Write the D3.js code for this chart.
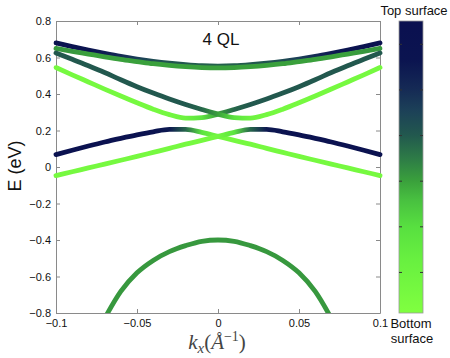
<!DOCTYPE html>
<html>
<head>
<meta charset="utf-8">
<script src="https://cdn.jsdelivr.net/npm/d3@7"></script>
<style>
  body { margin: 0; background: #fff; }
  svg { display: block; font-family: "Liberation Sans", Arial, sans-serif; }
</style>
</head>
<body>
<div id="vis"></div>
<script>
const FRAME_WIDTH = 450;
const FRAME_HEIGHT = 358;
const PLOT = {left: 56, right: 380, top: 21, bottom: 313};
const CBAR = {left: 399, right: 423};

// k grid (1/Angstrom) used by the surface bands
const K = [-0.1, -0.09, -0.08, -0.07, -0.06, -0.05, -0.04, -0.03, -0.02, -0.01, 0,
           0.01, 0.02, 0.03, 0.04, 0.05, 0.06, 0.07, 0.08, 0.09, 0.1];

// energies (eV), weight = position on the colorbar
const bandA_E = [0.68, 0.66, 0.641, 0.623, 0.606, 0.591, 0.579, 0.569, 0.561, 0.555, 0.553,
                 0.555, 0.561, 0.569, 0.579, 0.591, 0.606, 0.623, 0.641, 0.66, 0.68];
const bandA_W = [0.6, 0.59, 0.57, 0.54, 0.5, 0.46, 0.43, 0.41, 0.4, 0.39, 0.39,
                 0.39, 0.4, 0.41, 0.43, 0.46, 0.5, 0.54, 0.57, 0.59, 0.6];

const bandB_E = [0.65, 0.634, 0.619, 0.604, 0.59, 0.578, 0.566, 0.557, 0.55, 0.545, 0.543,
                 0.545, 0.55, 0.557, 0.566, 0.578, 0.59, 0.604, 0.619, 0.634, 0.65];
const bandB_W = [0.31, 0.31, 0.3, 0.3, 0.3, 0.3, 0.3, 0.3, 0.3, 0.3, 0.3,
                 0.3, 0.3, 0.3, 0.3, 0.3, 0.3, 0.3, 0.3, 0.31, 0.31];

const upperL_E = [0.545, 0.505, 0.466, 0.427, 0.389, 0.352, 0.317, 0.287, 0.268, 0.271, 0.29,
                  0.315, 0.342, 0.372, 0.405, 0.44, 0.478, 0.518, 0.555, 0.59, 0.625];
const upperL_W = [0.06, 0.06, 0.06, 0.06, 0.06, 0.06, 0.06, 0.07, 0.1, 0.18, 0.3,
                  0.38, 0.4, 0.4, 0.4, 0.4, 0.4, 0.4, 0.4, 0.4, 0.4];
const upperR_E = [0.625, 0.59, 0.555, 0.518, 0.478, 0.44, 0.405, 0.372, 0.342, 0.315, 0.29,
                  0.271, 0.268, 0.287, 0.317, 0.352, 0.389, 0.427, 0.466, 0.505, 0.545];
const upperR_W = [0.4, 0.4, 0.4, 0.4, 0.4, 0.4, 0.4, 0.4, 0.4, 0.38, 0.3,
                  0.18, 0.1, 0.07, 0.06, 0.06, 0.06, 0.06, 0.06, 0.06, 0.06];

const lowerL_E = [0.068, 0.092, 0.115, 0.137, 0.157, 0.176, 0.193, 0.206, 0.206, 0.19, 0.168,
                  0.146, 0.125, 0.102, 0.08, 0.058, 0.037, 0.016, -0.005, -0.026, -0.047];
const lowerL_W = [0.6, 0.6, 0.6, 0.6, 0.6, 0.6, 0.59, 0.55, 0.38, 0.18, 0.08,
                  0.06, 0.06, 0.06, 0.06, 0.06, 0.06, 0.06, 0.06, 0.06, 0.06];
const lowerR_E = [-0.047, -0.026, -0.005, 0.016, 0.037, 0.058, 0.08, 0.102, 0.125, 0.146, 0.168,
                  0.19, 0.206, 0.206, 0.193, 0.176, 0.157, 0.137, 0.115, 0.092, 0.068];
const lowerR_W = [0.06, 0.06, 0.06, 0.06, 0.06, 0.06, 0.06, 0.06, 0.06, 0.06, 0.08,
                  0.18, 0.38, 0.55, 0.59, 0.6, 0.6, 0.6, 0.6, 0.6, 0.6];

// bulk valence band
const K_VB = [-0.07, -0.06, -0.05, -0.04, -0.03, -0.02, -0.01, 0, 0.01, 0.02, 0.03, 0.04, 0.05, 0.06, 0.07];
const vb_E = [-0.83, -0.682, -0.58, -0.512, -0.464, -0.431, -0.407, -0.4,
              -0.407, -0.431, -0.464, -0.512, -0.58, -0.682, -0.83];
const vb_W = [0.31, 0.31, 0.31, 0.31, 0.31, 0.31, 0.31, 0.31, 0.31, 0.31, 0.31, 0.31, 0.31, 0.31, 0.31];

// colormap (bottom surface -> top surface)
const CMAP_W = [0.01, 0.126, 0.198, 0.258, 0.3, 0.345, 0.4, 0.455, 0.501, 0.5645, 0.65];
const CMAP_C = ["#80ff40", "#68f040", "#58e040", "#48c040", "#3aa03c", "#2e7e46",
                "#22584e", "#1c4058", "#152a55", "#0b1450", "#0a1050"];
const CB_DOMAIN = [0.01, 0.65];
const CB_TICKS = [0.1, 0.2, 0.3, 0.4, 0.5, 0.6];

const X_TICKS = [-0.1, -0.05, 0, 0.05, 0.1];
const X_LABELS = ["\u22120.1", "\u22120.05", "0", "0.05", "0.1"];
const Y_TICKS = [-0.8, -0.6, -0.4, -0.2, 0, 0.2, 0.4, 0.6, 0.8];
const Y_LABELS = ["\u22120.8", "\u22120.6", "\u22120.4", "\u22120.2", "0", "0.2", "0.4", "0.6", "0.8"];

const SVG = d3.select("#vis")
  .append("svg")
    .attr("width", FRAME_WIDTH)
    .attr("height", FRAME_HEIGHT);
const DEFS = SVG.append("defs");

const X_SCALE = d3.scaleLinear().domain([-0.1, 0.1]).range([PLOT.left, PLOT.right]);
const Y_SCALE = d3.scaleLinear().domain([-0.8, 0.8]).range([PLOT.bottom, PLOT.top]);
const CB_SCALE = d3.scaleLinear().domain(CB_DOMAIN).range([PLOT.bottom, PLOT.top]);
const COLOR = d3.scaleLinear().domain(CMAP_W).range(CMAP_C).interpolate(d3.interpolateRgb);

// axes, MATLAB style box with inward ticks
function styleAxis(g) {
  g.select(".domain").attr("stroke", "#8a8a8a");
  g.selectAll(".tick line").attr("stroke", "#8a8a8a");
  g.selectAll(".tick text").attr("fill", "#111").attr("font-size", "11px")
    .attr("font-family", "Liberation Sans, Arial, sans-serif");
}

SVG.append("g")
    .attr("transform", "translate(0," + PLOT.bottom + ")")
    .call(d3.axisBottom(X_SCALE).tickValues(X_TICKS).tickFormat((d, i) => X_LABELS[i])
      .tickSizeInner(-4).tickSizeOuter(0).tickPadding(6))
    .call(styleAxis);
SVG.append("g")
    .attr("transform", "translate(0," + PLOT.top + ")")
    .call(d3.axisTop(X_SCALE).tickValues(X_TICKS).tickFormat("")
      .tickSizeInner(-4).tickSizeOuter(0))
    .call(styleAxis);
SVG.append("g")
    .attr("transform", "translate(" + PLOT.left + ",0)")
    .call(d3.axisLeft(Y_SCALE).tickValues(Y_TICKS).tickFormat((d, i) => Y_LABELS[i])
      .tickSizeInner(-4).tickSizeOuter(0).tickPadding(5))
    .call(styleAxis);
SVG.append("g")
    .attr("transform", "translate(" + PLOT.right + ",0)")
    .call(d3.axisRight(Y_SCALE).tickValues(Y_TICKS).tickFormat("")
      .tickSizeInner(-4).tickSizeOuter(0))
    .call(styleAxis);

// clip at the bottom of the plot so the valence band ends on the axis
DEFS.append("clipPath").attr("id", "clip")
  .append("rect")
    .attr("x", PLOT.left - 6).attr("y", PLOT.top - 6)
    .attr("width", PLOT.right - PLOT.left + 12)
    .attr("height", PLOT.bottom - PLOT.top + 6);

const line = d3.line()
  .x((d) => X_SCALE(d.k))
  .y((d) => Y_SCALE(d.e))
  .curve(d3.curveMonotoneX);

const BANDS = [
  {id: "vb", k: K_VB, e: vb_E, w: vb_W},
  {id: "a", k: K, e: bandA_E, w: bandA_W},
  {id: "b", k: K, e: bandB_E, w: bandB_W},
  {id: "ul", k: K, e: upperL_E, w: upperL_W},
  {id: "ur", k: K, e: upperR_E, w: upperR_W},
  {id: "ll", k: K, e: lowerL_E, w: lowerL_W},
  {id: "lr", k: K, e: lowerR_E, w: lowerR_W}
];

const PLOT_G = SVG.append("g").attr("clip-path", "url(#clip)");

BANDS.forEach((b) => {
  const k0 = b.k[0], k1 = b.k[b.k.length - 1];
  const grad = DEFS.append("linearGradient")
      .attr("id", "g-" + b.id)
      .attr("gradientUnits", "userSpaceOnUse")
      .attr("x1", X_SCALE(k0)).attr("x2", X_SCALE(k1))
      .attr("y1", 0).attr("y2", 0);
  b.k.forEach((k, i) => {
    grad.append("stop")
      .attr("offset", (k - k0) / (k1 - k0))
      .attr("stop-color", COLOR(b.w[i]));
  });
  PLOT_G.append("path")
      .datum(b.k.map((k, i) => ({k: k, e: b.e[i]})))
      .attr("d", line)
      .attr("fill", "none")
      .attr("stroke", "url(#g-" + b.id + ")")
      .attr("stroke-width", 4.8)
      .attr("stroke-linecap", "round");
});

// colorbar
const cbGrad = DEFS.append("linearGradient")
    .attr("id", "cbar")
    .attr("gradientUnits", "userSpaceOnUse")
    .attr("x1", 0).attr("x2", 0)
    .attr("y1", CB_SCALE(CB_DOMAIN[0])).attr("y2", CB_SCALE(CB_DOMAIN[1]));
CMAP_W.forEach((w, i) => {
  cbGrad.append("stop")
    .attr("offset", (w - CB_DOMAIN[0]) / (CB_DOMAIN[1] - CB_DOMAIN[0]))
    .attr("stop-color", CMAP_C[i]);
});
SVG.append("rect")
    .attr("x", CBAR.left).attr("y", CB_SCALE(CB_DOMAIN[1]))
    .attr("width", CBAR.right - CBAR.left)
    .attr("height", CB_SCALE(CB_DOMAIN[0]) - CB_SCALE(CB_DOMAIN[1]))
    .attr("fill", "url(#cbar)")
    .attr("stroke", "#9a9a9a").attr("stroke-width", 0.8);

[[CBAR.left, d3.axisLeft], [CBAR.right, d3.axisRight]].forEach(([x, ax]) => {
  SVG.append("g")
      .attr("transform", "translate(" + x + ",0)")
      .call(ax(CB_SCALE).tickValues(CB_TICKS).tickFormat("").tickSizeInner(-3).tickSizeOuter(0))
      .call((g) => g.select(".domain").remove())
      .call((g) => g.selectAll(".tick line").attr("stroke", "#333"));
});

SVG.append("text")
    .attr("x", 414).attr("y", 15)
    .attr("text-anchor", "middle").attr("font-size", "13px").attr("fill", "#111")
    .text("Top surface");
SVG.append("text")
    .attr("x", 411).attr("y", 328)
    .attr("text-anchor", "middle").attr("font-size", "13px").attr("fill", "#111")
    .text("Bottom");
SVG.append("text")
    .attr("x", 412).attr("y", 343)
    .attr("text-anchor", "middle").attr("font-size", "13px").attr("fill", "#111")
    .text("surface");

// title and axis labels
SVG.append("text")
    .attr("x", 221).attr("y", 45)
    .attr("text-anchor", "middle").attr("font-size", "17px").attr("fill", "#111")
    .text("4 QL");

SVG.append("text")
    .attr("transform", "translate(21,166) rotate(-90)")
    .attr("text-anchor", "middle").attr("font-size", "18px").attr("fill", "#111")
    .text("E (eV)");

const XL = SVG.append("text")
    .attr("x", 217).attr("y", 349)
    .attr("text-anchor", "middle")
    .attr("font-family", "Liberation Serif, Times New Roman, serif")
    .attr("font-size", "21px").attr("fill", "#444");
XL.append("tspan").attr("font-style", "italic").text("k");
XL.append("tspan").attr("font-style", "italic").attr("font-size", "15px").attr("dy", 4).text("x");
XL.append("tspan").attr("dy", -4).text("(");
XL.append("tspan").attr("font-style", "italic").text("\u00c5");
XL.append("tspan").attr("font-size", "14px").attr("dy", -8).text("\u22121");
XL.append("tspan").attr("dy", 8).text(")");
</script>
</body>
</html>
